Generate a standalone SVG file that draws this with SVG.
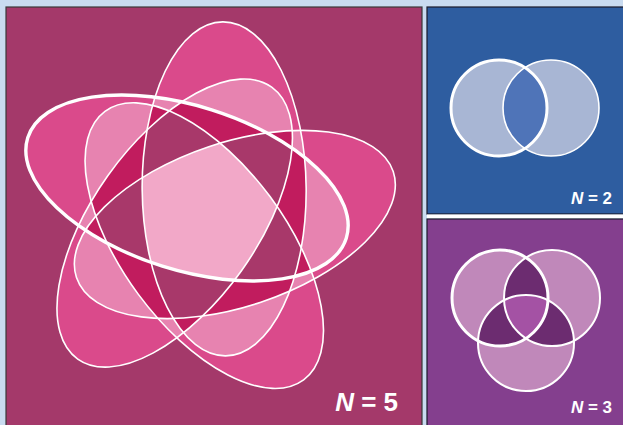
<svg xmlns="http://www.w3.org/2000/svg" xmlns:xlink="http://www.w3.org/1999/xlink" width="623" height="425" viewBox="0 0 623 425">
<style>
.o{fill:none;stroke:#fff;stroke-width:1.6}
.thick{stroke-width:3.4}
.lbl{font-family:"Liberation Sans",Arial,sans-serif;font-weight:bold;fill:#fff;text-anchor:end}
.it{font-style:italic}
</style>
<defs>
<ellipse id="e1" cx="187" cy="188" rx="167" ry="82" transform="rotate(17.5 187 188)"/>
<ellipse id="e2" cx="187" cy="188" rx="167" ry="82" transform="rotate(72 205 214) rotate(17.5 187 188)"/>
<ellipse id="e3" cx="187" cy="188" rx="167" ry="82" transform="rotate(144 205 214) rotate(17.5 187 188)"/>
<ellipse id="e4" cx="187" cy="188" rx="167" ry="82" transform="rotate(216 205 214) rotate(17.5 187 188)"/>
<ellipse id="e5" cx="187" cy="188" rx="167" ry="82" transform="rotate(288 205 214) rotate(17.5 187 188)"/>
<clipPath id="c1"><use href="#e1"/></clipPath>
<clipPath id="c2"><use href="#e2"/></clipPath>
<clipPath id="c3"><use href="#e3"/></clipPath>
<clipPath id="c4"><use href="#e4"/></clipPath>
<clipPath id="c5"><use href="#e5"/></clipPath>
<circle id="bL" cx="499" cy="108" r="48"/>
<circle id="bR" cx="551" cy="108" r="48"/>
<clipPath id="cbL"><use href="#bL"/></clipPath>
<circle id="pA" cx="500" cy="298" r="48"/>
<circle id="pB" cx="552" cy="298" r="48"/>
<circle id="pC" cx="526" cy="343" r="48"/>
<clipPath id="cpA"><use href="#pA"/></clipPath>
<clipPath id="cpB"><use href="#pB"/></clipPath>
</defs>
<rect x="0" y="0" width="623" height="425" fill="#c9dbf0"/>
<g id="panel-n5">
<rect x="6" y="7" width="416" height="420" fill="#a4396a" stroke="#3a3a3a" stroke-width="1.2"/>
<g id="regions-n5">
<g fill="#da4a8b"><use href="#e1"/><use href="#e2"/><use href="#e3"/><use href="#e4"/><use href="#e5"/></g>
<g fill="#e783b0">
<g clip-path="url(#c1)"><use href="#e2"/></g>
<g clip-path="url(#c1)"><use href="#e3"/></g>
<g clip-path="url(#c1)"><use href="#e4"/></g>
<g clip-path="url(#c1)"><use href="#e5"/></g>
<g clip-path="url(#c2)"><use href="#e3"/></g>
<g clip-path="url(#c2)"><use href="#e4"/></g>
<g clip-path="url(#c2)"><use href="#e5"/></g>
<g clip-path="url(#c3)"><use href="#e4"/></g>
<g clip-path="url(#c3)"><use href="#e5"/></g>
<g clip-path="url(#c4)"><use href="#e5"/></g>
</g>
<g fill="#c11c5e">
<g clip-path="url(#c1)"><g clip-path="url(#c2)"><use href="#e3"/></g></g>
<g clip-path="url(#c1)"><g clip-path="url(#c2)"><use href="#e4"/></g></g>
<g clip-path="url(#c1)"><g clip-path="url(#c2)"><use href="#e5"/></g></g>
<g clip-path="url(#c1)"><g clip-path="url(#c3)"><use href="#e4"/></g></g>
<g clip-path="url(#c1)"><g clip-path="url(#c3)"><use href="#e5"/></g></g>
<g clip-path="url(#c1)"><g clip-path="url(#c4)"><use href="#e5"/></g></g>
<g clip-path="url(#c2)"><g clip-path="url(#c3)"><use href="#e4"/></g></g>
<g clip-path="url(#c2)"><g clip-path="url(#c3)"><use href="#e5"/></g></g>
<g clip-path="url(#c2)"><g clip-path="url(#c4)"><use href="#e5"/></g></g>
<g clip-path="url(#c3)"><g clip-path="url(#c4)"><use href="#e5"/></g></g>
</g>
<g fill="#a8386a">
<g clip-path="url(#c1)"><g clip-path="url(#c2)"><g clip-path="url(#c3)"><use href="#e4"/></g></g></g>
<g clip-path="url(#c1)"><g clip-path="url(#c2)"><g clip-path="url(#c3)"><use href="#e5"/></g></g></g>
<g clip-path="url(#c1)"><g clip-path="url(#c2)"><g clip-path="url(#c4)"><use href="#e5"/></g></g></g>
<g clip-path="url(#c1)"><g clip-path="url(#c3)"><g clip-path="url(#c4)"><use href="#e5"/></g></g></g>
<g clip-path="url(#c2)"><g clip-path="url(#c3)"><g clip-path="url(#c4)"><use href="#e5"/></g></g></g>
</g>
<g fill="#f2a8c8">
<g clip-path="url(#c1)"><g clip-path="url(#c2)"><g clip-path="url(#c3)"><g clip-path="url(#c4)"><use href="#e5"/></g></g></g></g>
</g>
</g>
<g id="set5-b"><use href="#e2" class="o"/></g>
<g id="set5-c"><use href="#e3" class="o"/></g>
<g id="set5-d"><use href="#e4" class="o"/></g>
<g id="set5-e"><use href="#e5" class="o"/></g>
<g id="set5-a"><use href="#e1" class="o thick"/></g>
<text class="lbl" x="398" y="411" font-size="26"><tspan class="it">N</tspan> = 5</text>
</g>
<g id="panel-n2">
<rect x="427" y="7" width="197" height="207" fill="#2e5da0" stroke="#1a1a2a" stroke-width="1.2"/>
<g fill="#a8b6d4"><use href="#bL"/><use href="#bR"/></g>
<g clip-path="url(#cbL)" fill="#4f74b8"><use href="#bR"/></g>
<g id="set2-b"><use href="#bR" class="o" stroke-width="2"/></g>
<g id="set2-a"><use href="#bL" class="o" style="stroke-width:3"/></g>
<text class="lbl" x="612" y="204" font-size="17"><tspan class="it">N</tspan> = 2</text>
</g>
<rect x="427" y="214.5" width="197" height="4" fill="#ffffff"/>
<g id="panel-n3">
<rect x="427" y="219" width="197" height="208" fill="#843f8e" stroke="#1a1a2a" stroke-width="1.2"/>
<g fill="#c088ba"><use href="#pA"/><use href="#pB"/><use href="#pC"/></g>
<g fill="#6c2c70">
<g clip-path="url(#cpA)"><use href="#pB"/></g>
<g clip-path="url(#cpA)"><use href="#pC"/></g>
<g clip-path="url(#cpB)"><use href="#pC"/></g>
</g>
<g clip-path="url(#cpA)" fill="#a452a4"><g clip-path="url(#cpB)"><use href="#pC"/></g></g>
<g id="set3-b"><use href="#pB" class="o" style="stroke-width:2"/></g>
<g id="set3-c"><use href="#pC" class="o" style="stroke-width:2"/></g>
<g id="set3-a"><use href="#pA" class="o" style="stroke-width:3"/></g>
<text class="lbl" x="612" y="413" font-size="17"><tspan class="it">N</tspan> = 3</text>
</g>
</svg>
